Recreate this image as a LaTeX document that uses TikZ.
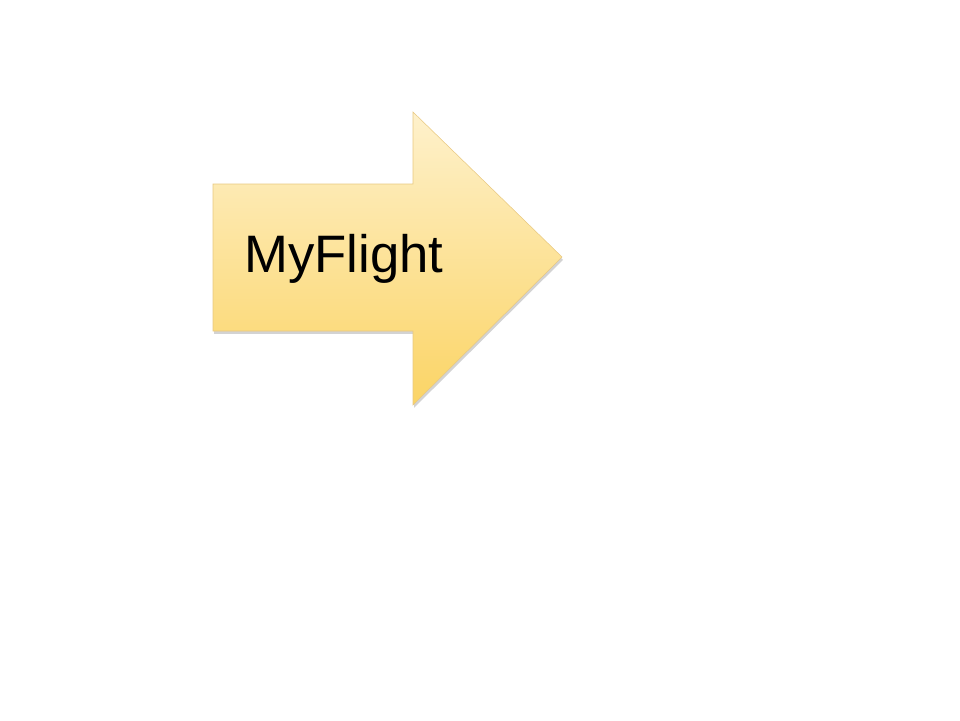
\documentclass[tikz,border=0pt]{standalone}
\usepackage{fontspec}
\setmainfont{Liberation Sans}
\usetikzlibrary{shadows}
\definecolor{arrowtop}{HTML}{FEF1CC}
\definecolor{arrowbot}{HTML}{FBD465}
\definecolor{arrowedge}{HTML}{E8C880}

\begin{document}
\begin{tikzpicture}[x=0.02cm, y=-0.02cm,
  flightarrow/.style={top color=arrowtop, bottom color=arrowbot, draw=arrowedge, line width=0.3pt,
    drop shadow={shadow xshift=0.6pt, shadow yshift=-1.6pt, opacity=0.35}},
  flightlabel/.style={anchor=base west, inner sep=0pt, font=\fontsize{30}{36}\selectfont}]

  % Define canvas
  \useasboundingbox (0,0) rectangle (960,720);

  % Define arrow
  \path[flightarrow] (213,184) -- (413,184) -- (413,112) -- (562,257)
    -- (413,405) -- (413,331) -- (213,331) -- cycle;

  % Label
  \node[flightlabel] (myflight) at (244,272) {MyFlight};

\end{tikzpicture}
\end{document}
